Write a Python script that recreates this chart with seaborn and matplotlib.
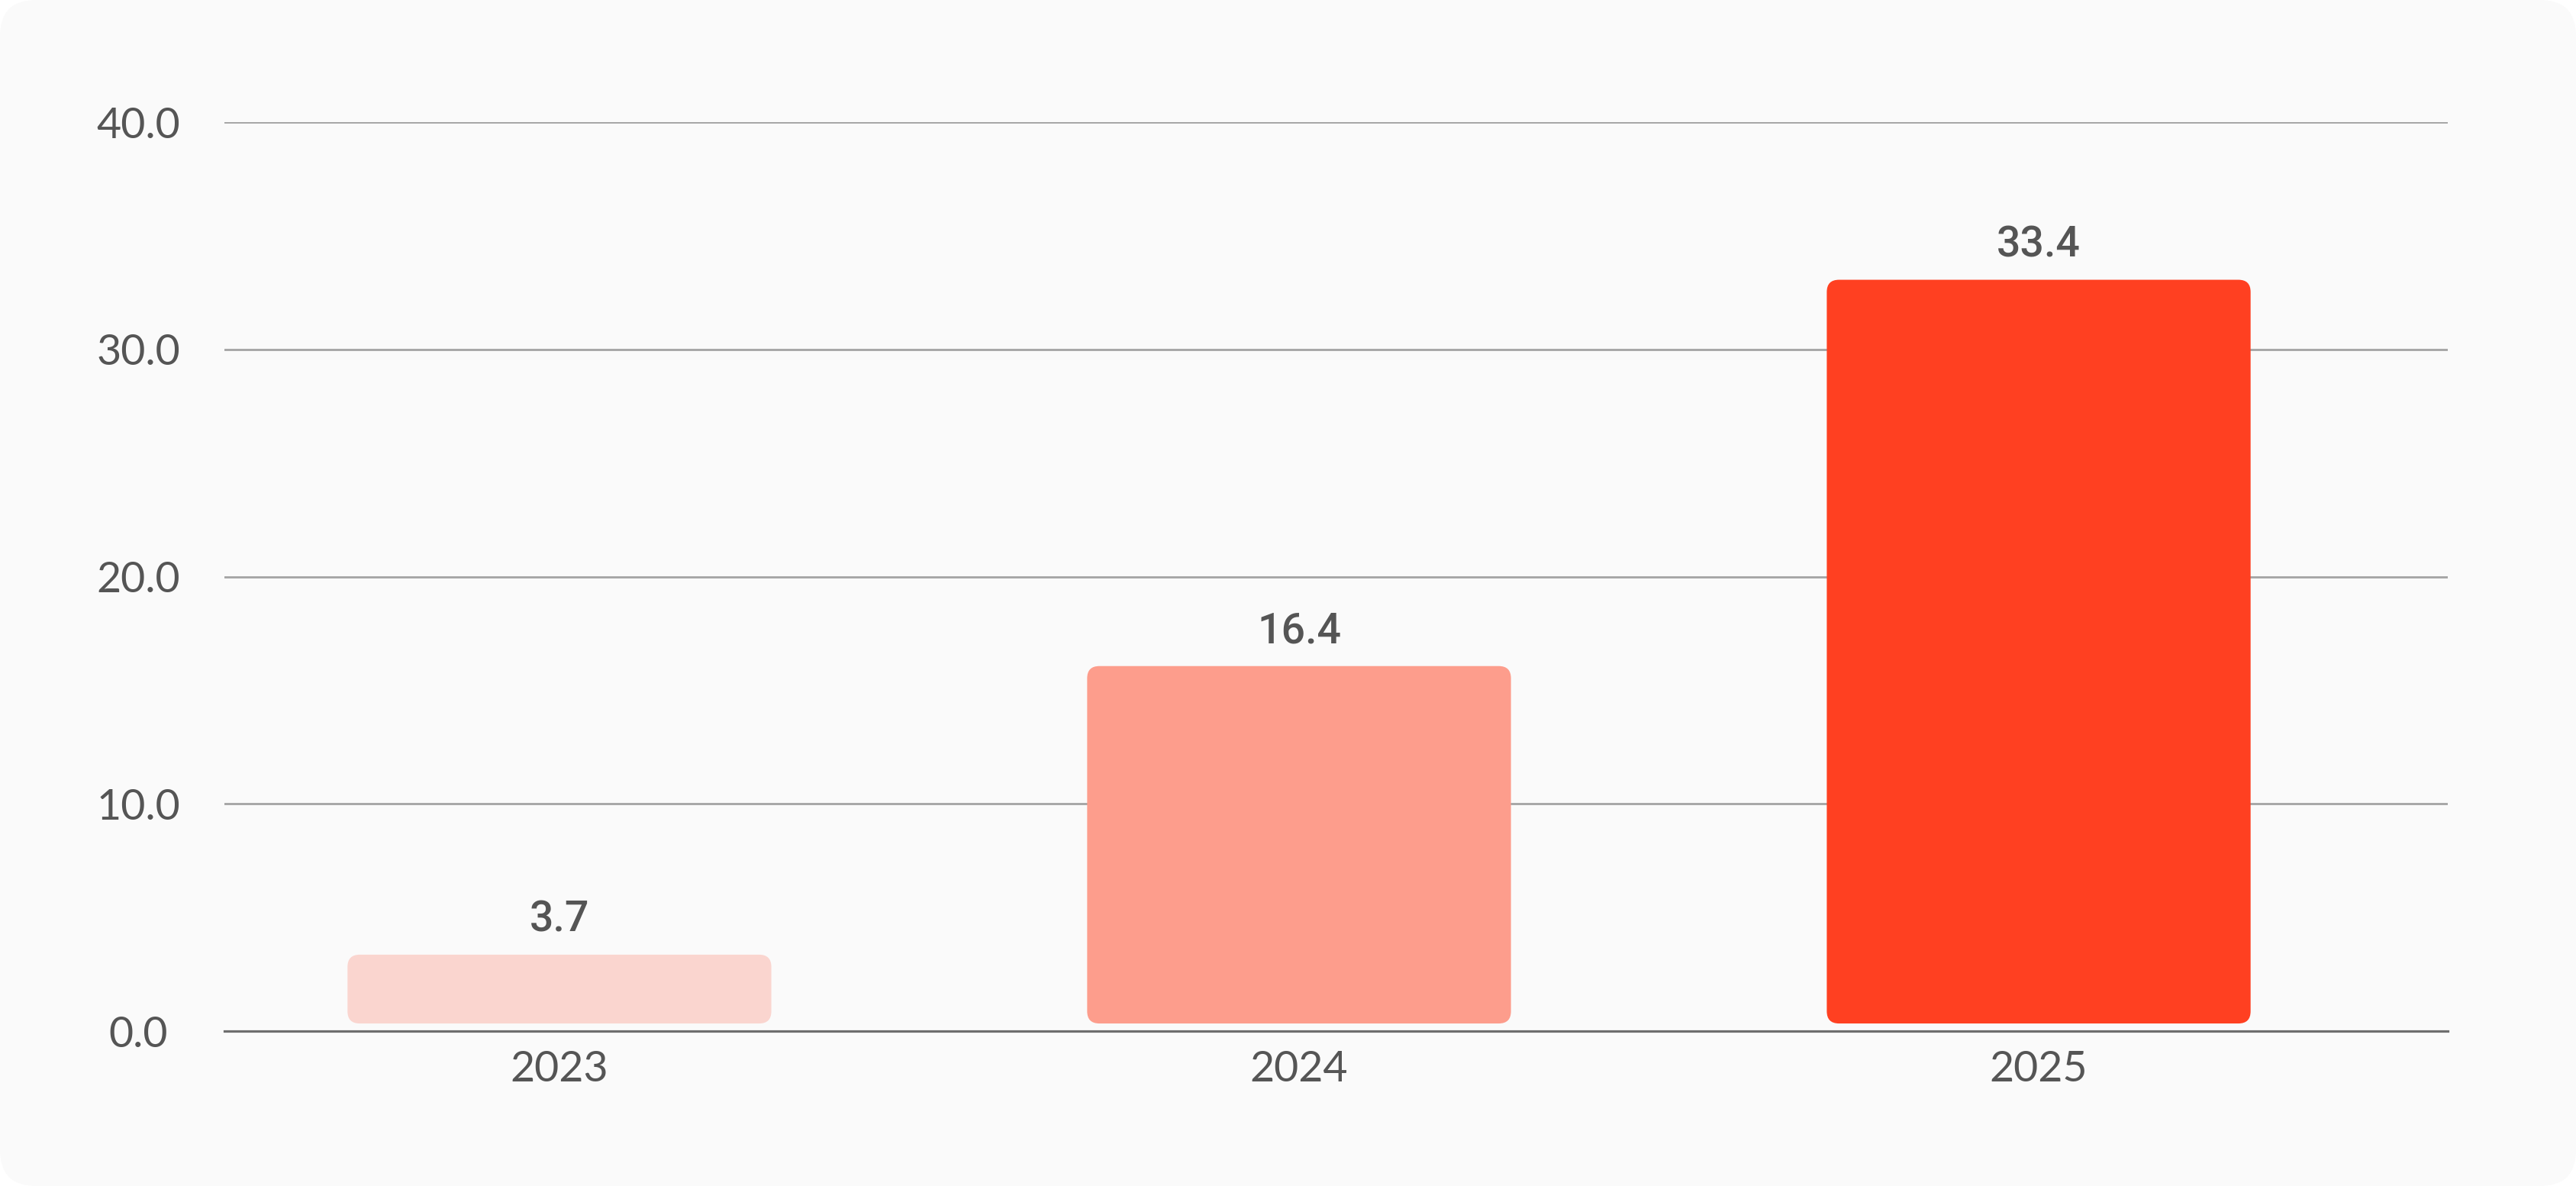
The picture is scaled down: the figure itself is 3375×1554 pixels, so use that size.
import matplotlib
matplotlib.use("Agg")  # headless
import matplotlib.pyplot as plt
from matplotlib.patches import FancyBboxPatch
import pandas as pd
import seaborn as sns

# -------------------------------------------------------------
# Data
# -------------------------------------------------------------
years = ["2023", "2024", "2025"]
values = [3.7, 16.4, 33.4]
bar_colors = ["#FAD5CF", "#FD9D8C", "#FF4021"]
y_ticks = [0, 10, 20, 30, 40]

CARD = "#FAFAFA"
TEXT = "#555555"
W, H = 3375, 1554

sns.set_theme(style="white")
plt.rcParams["font.family"] = ["Lato", "DejaVu Sans"]

df = pd.DataFrame({"year": years, "value": values})

fig = plt.figure(figsize=(W / 100, H / 100), dpi=100, facecolor="white")

# rounded card behind everything
fig.patches.append(FancyBboxPatch(
    (0, 0), 1, 1, boxstyle="round,pad=0,rounding_size=0.014",
    mutation_aspect=W / H, transform=fig.transFigure,
    facecolor=CARD, edgecolor="none", zorder=-10))

ax = fig.add_axes([0.0871, 0.1306, 0.8631, 0.7664])
ax.set_zorder(1)
ax.patch.set_alpha(0)

sns.barplot(data=df, x="year", y="value", hue="year", palette=bar_colors,
            width=0.573, saturation=1, legend=False, ax=ax)

ax.set_xlim(-0.453, 2.553)
ax.set_ylim(0, 40)

# grid + baseline
ax.set_yticks(y_ticks)
ax.set_yticklabels([f"{t:.1f}" for t in y_ticks])
ax.yaxis.grid(True, color="#A3A3A3", lw=2.0)
ax.set_axisbelow(True)
for side in ["top", "right", "left"]:
    ax.spines[side].set_visible(False)
ax.spines["bottom"].set_color("#6E6E6E")
ax.spines["bottom"].set_linewidth(2.3)
ax.spines["bottom"].set_zorder(5)

ax.tick_params(axis="y", length=0, pad=81, labelsize=40, labelcolor=TEXT)
ax.tick_params(axis="x", length=0, pad=18, labelsize=40, labelcolor=TEXT)
for lbl in ax.get_yticklabels():
    lbl.set_horizontalalignment("center")
ax.set_xlabel("")
ax.set_ylabel("")

# swap the plain bars for rounded ones
bbox = ax.get_window_extent()
x_scale = bbox.width / (ax.get_xlim()[1] - ax.get_xlim()[0])
y_scale = bbox.height / (ax.get_ylim()[1] - ax.get_ylim()[0])
r_x = 16 / x_scale
gap = 10 / y_scale

for patch in list(ax.patches):
    x, w, h = patch.get_x(), patch.get_width(), patch.get_height()
    color = patch.get_facecolor()
    patch.remove()
    ax.add_patch(FancyBboxPatch(
        (x, gap), w, h - 2 * gap,
        boxstyle=f"round,pad=0,rounding_size={r_x}",
        mutation_aspect=x_scale / y_scale,
        facecolor=color, edgecolor="none", zorder=3))
    ax.annotate(f"{h:.1f}", (x + w / 2, h - gap), xytext=(0, 33),
                textcoords="offset points", ha="center", va="center",
                fontsize=40, color=TEXT, family=["Roboto", "DejaVu Sans"],
                fontweight="medium")

fig.savefig("out.png", dpi=100, facecolor="white")
